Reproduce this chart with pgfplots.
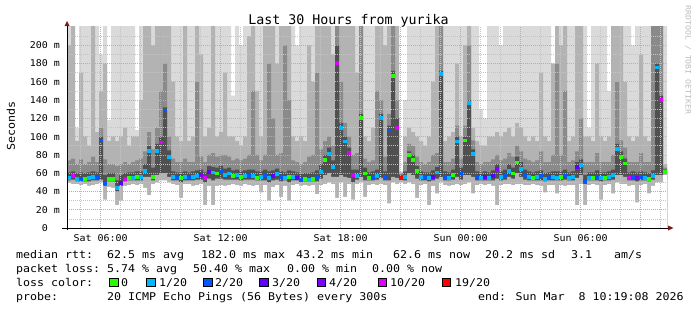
\documentclass[border=0pt]{standalone}
\usepackage{fontspec}
\usepackage{pgfplots}
\pgfplotsset{compat=1.18}
\usepackage{pgfplotstable}
\newfontfamily\monoT{DejaVu Sans Mono}
\newfontfamily\monoL{DejaVu Sans Mono}[FakeStretch=1.09]
\newfontfamily\monoS{DejaVu Sans Mono}[FakeStretch=1.07]
\newfontfamily\monoW{DejaVu Sans Mono}[FakeStretch=1.1]
\definecolor{lA}{HTML}{B4B4B4}
\definecolor{lB}{HTML}{505050}
\definecolor{lC}{HTML}{8A8A8A}
\definecolor{lD}{HTML}{B3B3B3}
\definecolor{lE}{HTML}{DADADA}
\definecolor{c0}{HTML}{26FF00}
\definecolor{c1}{HTML}{00B8FF}
\definecolor{c2}{HTML}{0059FF}
\definecolor{c3}{HTML}{5E00FF}
\definecolor{c4}{HTML}{7E00FF}
\definecolor{c5}{HTML}{DD00FF}
\definecolor{c6}{HTML}{FF0000}
\definecolor{mgrid}{HTML}{E39A9A}
\definecolor{ngrid}{HTML}{C4C4C4}
\definecolor{arrowred}{HTML}{801818}
\definecolor{wmark}{HTML}{BDBDBD}

\pgfplotstableread{
i lo lm med um u2 uh hi c
0 49 52 55 61 74 200 240 1
1 48 53 57 62 76 240 240 5
2 48 51 54 60 70 95 110 1
3 47 51 54 61 75 170 240 2
4 48 51 54 60 70 100 240 0
5 46 51 55 61 72 90 240 1
6 47 52 56 62 78 240 240 1
7 48 52 55 61 72 105 240 2
8 50 53 96 100 110 150 190 2
9 31 46 50 58 75 180 240 2
10 45 51 54 60 70 95 118 0
11 44 51 54 60 70 100 240 0
12 25 40 44 52 68 95 240 1
13 30 46 50 58 70 100 240 3
14 46 51 54 60 72 110 240 5
15 47 52 55 61 70 90 240 0
16 48 52 55 61 72 100 240 1
17 47 52 56 62 74 100 107 0
18 48 52 56 62 76 140 240 1
19 44 56 63 70 84 240 240 1
20 36 56 85 90 105 240 240 1
21 48 52 56 66 86 200 240 0
22 50 58 85 92 110 240 240 1
23 52 60 94 100 150 240 240 5
24 52 60 129 132 180 240 240 2
25 50 56 78 85 100 240 240 1
26 48 52 56 62 76 160 240 1
27 47 52 55 61 72 100 240 2
28 33 50 55 61 72 95 240 0
29 48 52 56 62 76 240 240 1
30 48 52 55 61 72 95 240 2
31 46 52 56 62 72 100 240 1
32 47 53 57 63 160 240 240 1
33 48 53 58 64 78 190 240 4
34 25 50 55 61 72 100 240 5
35 46 54 62 68 80 110 240 3
36 25 52 61 67 82 240 240 1
37 46 54 60 66 78 100 240 0
38 47 54 62 68 80 105 240 2
39 46 53 58 65 80 170 240 1
40 47 53 60 66 78 100 240 1
41 48 53 57 63 74 100 145 0
42 47 53 58 64 76 95 240 1
43 46 52 56 62 74 90 200 0
44 48 53 57 63 76 100 240 1
45 47 53 58 64 80 210 240 2
46 46 53 57 64 150 240 240 1
47 47 52 55 62 80 150 240 0
48 39 52 56 62 74 100 240 1
49 47 52 58 64 80 240 240 2
50 30 50 55 62 180 240 240 1
51 45 52 57 63 120 240 240 3
52 47 53 59 65 80 180 240 1
53 34 51 56 62 82 240 240 2
54 46 52 55 61 200 240 240 1
55 30 50 56 63 140 240 240 0
56 47 52 56 62 74 100 240 1
57 48 52 55 61 72 95 200 3
58 46 51 53 59 70 100 240 2
59 47 51 54 60 72 95 240 0
60 46 51 53 60 78 200 240 1
61 47 51 54 61 80 160 240 0
62 37 51 55 63 170 240 240 2
63 47 54 62 70 86 240 240 1
64 48 58 75 80 95 240 240 0
65 50 60 81 88 100 240 240 1
66 48 56 67 74 90 190 240 1
67 33 56 181 200 240 240 240 5
68 50 58 110 115 160 240 240 1
69 34 56 95 100 115 240 240 1
70 48 55 82 88 100 240 240 5
71 31 50 58 64 80 240 240 5
72 48 53 57 64 82 170 240 1
73 50 56 121 125 240 240 240 0
74 34 52 60 66 76 100 240 0
75 47 52 55 61 72 95 240 0
76 48 52 56 62 74 110 240 2
77 47 53 57 64 150 240 240 1
78 48 55 121 125 140 240 240 1
79 47 52 56 62 78 200 240 2
80 27 52 107 112 125 240 240 2
81 50 56 167 172 240 240 240 0
82 48 55 110 120 140 240 240 5
83 50 53 55 58 60 61 62 6
84 48 52 56 62 72 100 140 1
85 50 60 80 84 92 110 240 0
86 48 58 75 80 90 105 240 0
87 33 54 63 68 78 100 240 0
88 47 52 56 62 72 95 240 1
89 48 52 55 61 70 90 240 2
90 25 51 55 61 72 100 240 1
91 46 52 56 63 80 160 240 3
92 38 54 61 67 82 240 240 1
93 50 56 169 172 240 240 240 1
94 47 52 56 62 72 95 240 2
95 46 52 55 61 72 100 240 1
96 47 53 58 64 76 105 240 0
97 48 56 95 100 112 180 240 1
98 47 53 60 66 76 100 240 2
99 48 58 96 100 112 200 240 0
100 50 58 137 140 200 240 240 1
101 38 56 81 86 96 110 240 1
102 47 52 56 62 72 95 240 2
103 48 52 55 61 70 90 130 1
104 47 52 56 62 72 90 120 3
105 48 52 55 61 72 100 240 1
106 46 52 57 63 75 100 240 3
107 25 54 65 70 80 105 240 4
108 47 52 56 62 74 100 200 1
109 48 53 58 64 76 105 240 2
110 48 56 63 70 82 110 240 1
111 47 54 60 66 78 100 240 0
112 48 60 72 78 90 115 240 0
113 48 56 65 72 84 110 240 1
114 47 53 58 64 76 100 240 2
115 47 52 56 62 74 95 240 1
116 48 52 55 61 72 100 240 0
117 47 52 56 62 74 95 240 1
118 46 52 57 63 84 170 240 2
119 39 51 54 60 72 100 240 1
120 47 52 55 61 72 95 240 2
121 47 52 56 62 80 180 180 1
122 38 52 55 62 180 240 240 1
123 47 52 56 62 80 200 240 0
124 46 53 57 64 150 240 240 2
125 47 52 55 61 72 95 240 1
126 47 52 56 62 74 100 240 1
127 25 55 67 72 84 240 240 3
128 48 58 69 75 120 240 240 1
129 25 48 52 58 72 100 240 2
130 47 52 55 61 72 100 110 1
131 48 52 55 61 72 95 240 0
132 47 52 56 63 82 180 240 2
133 31 51 55 61 72 100 240 1
134 47 52 55 61 72 95 240 0
135 48 52 56 62 72 100 150 1
136 38 53 58 64 80 240 240 1
137 50 58 87 92 160 240 240 1
138 48 58 78 84 96 240 240 0
139 48 56 71 76 88 160 240 0
140 46 52 55 61 72 100 240 5
141 47 52 56 62 72 95 200 2
142 28 51 55 61 72 100 240 4
143 47 52 56 62 82 190 240 2
144 48 52 55 61 72 100 240 1
145 38 51 54 60 72 95 240 0
146 46 53 57 63 240 240 240 1
147 50 58 176 180 240 240 240 1
148 50 58 140 145 240 240 240 5
149 58 60 62 64 66 70 240 0
150 58 60 62 64 66 70 240 0
}\smoke

\begin{document}
\begin{tikzpicture}[x=1bp,y=1bp]
\useasboundingbox (0,0) rectangle (697,310);
\begin{axis}[
  at={(67bp,82bp)}, anchor=south west,
  scale only axis, width=600bp, height=201bp,
  xmin=0, xmax=150, ymin=0, ymax=220,
  axis x line*=bottom, axis y line*=left,
  axis line style={draw=none},
  axis on top,
  xtick={8.4,23.4,38.4,53.4,68.4,83.4,98.4,113.4,128.4,143.4},
  xticklabels={Sat 06:00,,Sat 12:00,,Sat 18:00,,Sun 00:00,,Sun 06:00,},
  minor xtick={3.4,13.4,18.4,28.4,33.4,43.4,48.4,58.4,63.4,73.4,78.4,88.4,93.4,103.4,108.4,118.4,123.4,133.4,138.4,148.4},
  ytick={0,20,...,200},
  yticklabels={0\hphantom{\ m},20 m,40 m,60 m,80 m,100 m,120 m,140 m,160 m,180 m,200 m},
  minor ytick={10,30,...,210},
  major tick length=0pt, minor tick length=0pt,
  grid=both,
  major grid style={draw=mgrid, dash pattern=on 1bp off 1bp, line width=0.7bp},
  minor grid style={draw=ngrid, dash pattern=on 1bp off 1bp, line width=0.7bp},
  tick label style={font=\monoS\fontsize{9.33bp}{11bp}\selectfont, inner sep=0pt},
  xticklabel style={anchor=base, yshift=-13bp},
  yticklabel style={anchor=east, xshift=-7bp},
]
\addplot[const plot, fill=lE, draw=none] table[x=i, y=hi] {\smoke} \closedcycle;
\addplot[const plot, fill=lD, draw=none] table[x=i, y=uh] {\smoke} \closedcycle;
\addplot[const plot, fill=lC, draw=none] table[x=i, y=u2] {\smoke} \closedcycle;
\addplot[const plot, fill=lB, draw=none] table[x=i, y=um] {\smoke} \closedcycle;
\addplot[const plot, fill=lA, draw=none] table[x=i, y=lm] {\smoke} \closedcycle;
\addplot[const plot, fill=white, draw=none] table[x=i, y=lo] {\smoke} \closedcycle;
\addplot[scatter, only marks, mark size=1.4bp, skip coords between index={150}{151},
  scatter src=explicit symbolic,
  scatter/classes={0={mark=square*,c0},1={mark=square*,c1},2={mark=square*,c2},3={mark=square*,c3},4={mark=square*,c4},5={mark=square*,c5},6={mark=square*,c6}}]
  table[x expr=\thisrow{i}+0.5, y=med, meta=c] {\smoke};
\end{axis}
% axis lines and arrows
\draw[line width=0.9bp] (62,82) -- (668,82);
\draw[line width=0.9bp] (67,80) -- (67,284);
\fill[arrowred] (668,79.5) -- (673.5,82) -- (668,84.5) -- cycle;
\fill[arrowred] (64.5,284) -- (67,289) -- (69.5,284) -- cycle;
% title, labels
\node[anchor=base, inner sep=0pt, font=\monoT\fontsize{13.3bp}{15bp}\selectfont] at (348.5,286) {Last 30 Hours from yurika};
\node[rotate=90, inner sep=0pt, font=\monoL\fontsize{10.67bp}{12bp}\selectfont] at (11,184) {Seconds};
\node[rotate=-90, inner sep=0pt, text=wmark, font=\monoW\fontsize{7.5bp}{9bp}\selectfont] at (688,250) {RRDTOOL / TOBI OETIKER};
% legend
\begin{scope}[every node/.style={anchor=base west, inner sep=0pt, font=\monoL\fontsize{10.67bp}{12bp}\selectfont}]
\node at (16,52) {median rtt:};
\node at (107,52) {62.5 ms avg};
\node at (201,52) {182.0 ms max};
\node at (296,52) {43.2 ms min};
\node at (393,52) {62.6 ms now};
\node at (485,52) {20.2 ms sd};
\node at (571,52) {3.1};
\node at (614,52) {am/s};
\node at (16,38) {packet loss:};
\node at (107,38) {5.74 \% avg};
\node at (193,38) {50.40 \% max};
\node at (287,38) {0.00 \% min};
\node at (372,38) {0.00 \% now};
\node at (16,24) {loss color:};
\node at (121,24) {0};
\node at (159,24) {1/20};
\node at (215,24) {2/20};
\node at (272,24) {3/20};
\node at (329,24) {4/20};
\node at (390,24) {10/20};
\node at (455,24) {19/20};
\node at (16,10) {probe:};
\node at (107,10) {20 ICMP Echo Pings (56 Bytes) every 300s};
\node at (478,10) {end: Sun Mar\ \ 8 10:19:08 2026};
\end{scope}
\foreach \bx/\bc in {109.5/c0,146.5/c1,203.5/c2,259.5/c3,317/c4,378/c5,442/c6}{
  \draw[line width=0.8bp, fill=\bc] (\bx,23.5) rectangle ++(8.5,8.5);
}
\end{tikzpicture}
\end{document}
